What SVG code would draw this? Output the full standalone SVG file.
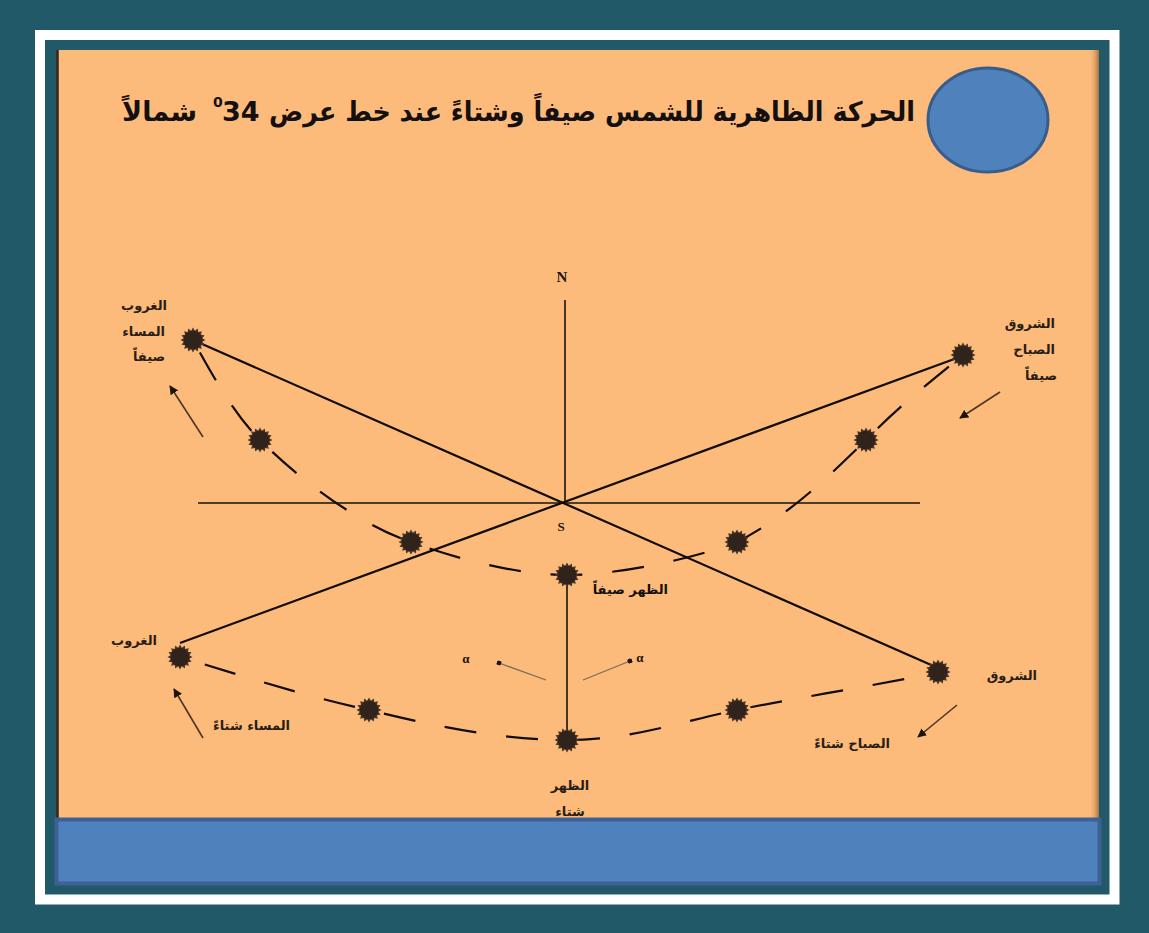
<svg xmlns="http://www.w3.org/2000/svg" width="1149" height="933" viewBox="0 0 1149 933">
  <defs>
    <style>
      .ar { font-family: "DejaVu Sans", "Noto Sans", sans-serif; fill: #2a1d14; }
      .ttl { fill: #141010; font-weight: bold; }
      .lbl { font-size: 13px; font-weight: bold; }
      .axis { stroke: #1a120c; stroke-width: 1.6; fill: none; }
      .ray { stroke: #120c08; stroke-width: 2.2; fill: none; }
      .path { stroke: #120c08; stroke-width: 2.2; fill: none; stroke-dasharray: 32 30; }
      .arrow { stroke: #4a3626; stroke-width: 1.6; fill: none; marker-end: url(#head); }
      .thin { stroke: #7d6a58; stroke-width: 1.3; fill: none; marker-end: url(#dot); }
      .latin { font-family: "Liberation Serif", serif; font-weight: bold; fill: #1a120c; }
    </style>
    <marker id="head" viewBox="0 0 10 10" refX="9" refY="5" markerWidth="9" markerHeight="9" orient="auto" markerUnits="userSpaceOnUse">
      <path d="M0,0 L10,5 L0,10 z" fill="#1e140c"/>
    </marker>
    <marker id="dot" viewBox="0 0 6 6" refX="3" refY="3" markerWidth="5" markerHeight="5" orient="auto" markerUnits="userSpaceOnUse">
      <circle cx="3" cy="3" r="3" fill="#1e140c"/>
    </marker>
    <!-- spiky sun glyph -->
    <g id="sun">
      <polygon fill="#4a3526" points="12.5,0 9.32,1.85 11.55,4.78 7.9,5.28 8.84,8.84 5.28,7.9 4.78,11.55 1.85,9.32 0,12.5 -1.85,9.32 -4.78,11.55 -5.28,7.9 -8.84,8.84 -7.9,5.28 -11.55,4.78 -9.32,1.85 -12.5,0 -9.32,-1.85 -11.55,-4.78 -7.9,-5.28 -8.84,-8.84 -5.28,-7.9 -4.78,-11.55 -1.85,-9.32 0,-12.5 1.85,-9.32 4.78,-11.55 5.28,-7.9 8.84,-8.84 7.9,-5.28 11.55,-4.78 9.32,-1.85"/>
      <circle r="9.3" fill="#30231b"/>
    </g>
    <linearGradient id="edgeR" x1="0" y1="0" x2="1" y2="0">
      <stop offset="0" stop-color="#fcbb7b" stop-opacity="0"/>
      <stop offset="1" stop-color="#a8703e"/>
    </linearGradient>
  </defs>

  <!-- frame -->
  <rect x="0" y="0" width="1149" height="933" fill="#215968"/>
  <rect x="40" y="35" width="1074.5" height="864.5" fill="none" stroke="#ffffff" stroke-width="10"/>
  <rect x="57" y="50" width="1042" height="772" fill="#fcbb7b"/>
  <rect x="1089" y="50" width="10" height="772" fill="url(#edgeR)"/>
  <line x1="57.5" y1="50" x2="57.5" y2="822" stroke="#3a2414" stroke-width="2.5"/>

  <!-- title -->
  <g id="title">
    <text class="ar ttl" x="915" y="121" font-size="27" text-anchor="end" textLength="646" lengthAdjust="spacingAndGlyphs">الحركة الظاهرية للشمس صيفاً وشتاءً عند خط عرض</text>
    <text class="ar ttl" x="213" y="107" font-size="14">0</text>
    <text class="ar ttl" x="222" y="121" font-size="27">34</text>
    <text class="ar ttl" x="197" y="121" font-size="27" text-anchor="end">شمالاً</text>
  </g>
  <g id="badge">
    <ellipse cx="988" cy="120" rx="60" ry="52" fill="#4f81bd" stroke="#385d8a" stroke-width="3"/>
  </g>

  <!-- connectors -->
  <g id="connectors">
    <line class="axis" x1="565" y1="300" x2="565" y2="504"/>
    <line class="axis" x1="198" y1="503" x2="920" y2="503"/>
    <line class="axis" x1="567" y1="580" x2="567" y2="735"/>
    <line class="ray" x1="193" y1="340" x2="938" y2="668"/>
    <line class="ray" x1="957" y1="358" x2="180" y2="643"/>
    <path class="path" stroke-dashoffset="-14" d="M193,340 C215,380 235,415 260,440 C300,480 360,525 411,542 C460,560 520,575 567,575 C615,575 690,560 737,542 C790,515 830,475 866,440 C900,405 935,378 963,355"/>
    <path class="path" stroke-dasharray="34 38" stroke-dashoffset="-26" d="M180,657 C240,675 300,695 369,710 C430,725 500,740 567,740 C630,740 680,722 737,710 C800,697 880,685 938,672"/>
    <line class="arrow" x1="203" y1="437" x2="170" y2="386"/>
    <line class="arrow" x1="1000" y1="392" x2="960" y2="418"/>
    <line class="arrow" x1="203" y1="738" x2="174" y2="689"/>
    <line class="arrow" x1="957" y1="705" x2="918" y2="737"/>
    <line class="thin" x1="546" y1="680" x2="499" y2="663"/>
    <line class="thin" x1="583" y1="680" x2="630" y2="661"/>
  </g>

  <!-- summer suns -->
  <g id="sun-summer-sunset"><use href="#sun" x="193" y="340"/></g>
  <g id="sun-summer-2"><use href="#sun" x="260" y="440"/></g>
  <g id="sun-summer-3"><use href="#sun" x="411" y="542"/></g>
  <g id="sun-summer-noon"><use href="#sun" x="567" y="575"/></g>
  <g id="sun-summer-5"><use href="#sun" x="737" y="542"/></g>
  <g id="sun-summer-6"><use href="#sun" x="866" y="440"/></g>
  <g id="sun-summer-sunrise"><use href="#sun" x="963" y="355"/></g>

  <!-- winter suns -->
  <g id="sun-winter-sunset"><use href="#sun" x="180" y="657"/></g>
  <g id="sun-winter-2"><use href="#sun" x="369" y="710"/></g>
  <g id="sun-winter-noon"><use href="#sun" x="567" y="740"/></g>
  <g id="sun-winter-4"><use href="#sun" x="737" y="710"/></g>
  <g id="sun-winter-sunrise"><use href="#sun" x="938" y="672"/></g>

  <!-- compass letters -->
  <g id="label-N"><text class="latin" x="562" y="282" font-size="15" text-anchor="middle">N</text></g>
  <g id="label-S"><text class="latin" x="561" y="531" font-size="13" text-anchor="middle">S</text></g>
  <g id="label-alpha">
    <text class="latin" x="466" y="663" font-size="13" text-anchor="middle">α</text>
    <text class="latin" x="640" y="662" font-size="13" text-anchor="middle">α</text>
  </g>

  <!-- Arabic labels -->
  <g id="label-summer-sunset">
    <text class="ar lbl" x="167" y="310" text-anchor="end">الغروب</text>
    <text class="ar lbl" x="165" y="336" text-anchor="end">المساء</text>
    <text class="ar lbl" x="165" y="361" text-anchor="end">صيفاً</text>
  </g>
  <g id="label-summer-sunrise">
    <text class="ar lbl" x="1055" y="328" text-anchor="end">الشروق</text>
    <text class="ar lbl" x="1055" y="354" text-anchor="end">الصباح</text>
    <text class="ar lbl" x="1057" y="380" text-anchor="end">صيفاً</text>
  </g>
  <g id="label-winter-sunset">
    <text class="ar lbl" x="157" y="645" text-anchor="end">الغروب</text>
    <text class="ar lbl" x="290" y="730" text-anchor="end">المساء شتاءً</text>
  </g>
  <g id="label-winter-sunrise">
    <text class="ar lbl" x="1037" y="680" text-anchor="end">الشروق</text>
    <text class="ar lbl" x="890" y="748" text-anchor="end">الصباح شتاءً</text>
  </g>
  <g id="label-summer-noon">
    <text class="ar ttl" x="668" y="594" font-size="13" text-anchor="end">الظهر صيفاً</text>
  </g>
  <g id="label-winter-noon">
    <text class="ar lbl" x="570" y="790" text-anchor="middle">الظهر</text>
    <text class="ar lbl" x="570" y="816" text-anchor="middle">شتاء</text>
  </g>

  <!-- bottom band -->
  <g id="footer">
    <rect x="56.5" y="819.5" width="1043" height="64" fill="#4f81bd" stroke="#3d6195" stroke-width="4"/>
  </g>
</svg>
